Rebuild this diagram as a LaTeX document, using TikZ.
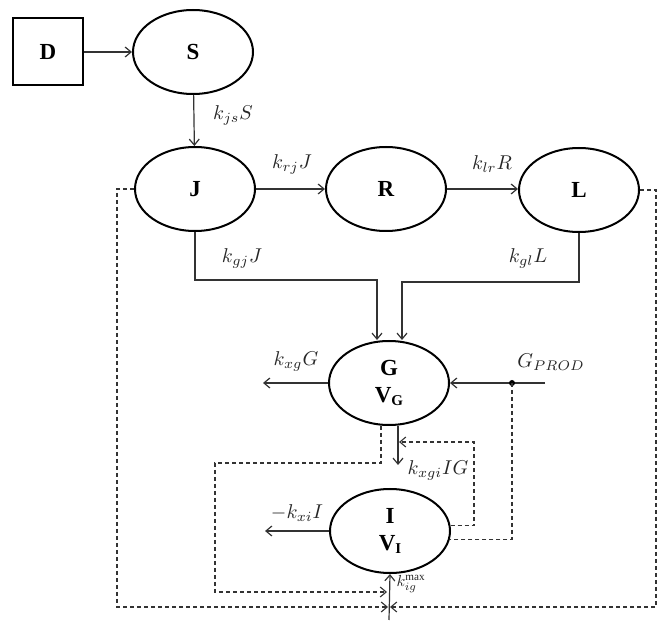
\documentclass[tikz,border=0pt]{standalone}
\usepackage{fontspec}
\setmainfont{Liberation Serif}
\usetikzlibrary{arrows.meta,shapes.geometric}
\newcommand{\mlab}[1]{\scalebox{2.0}{$#1$}}
\begin{document}
\begin{tikzpicture}[x=1pt,y=-1pt,
  >={Straight Barb[length=6pt,width=10pt]},
  conn/.style={draw=black!80,line width=1.2pt},
  dsh/.style={draw=black!80,line width=1.1pt,dash pattern=on 4pt off 3pt},
  ell/.style={ellipse,draw=black,line width=2pt,minimum width=120pt,minimum height=84pt,inner sep=0pt,font=\fontsize{23}{28}\selectfont\bfseries,align=center},
  box/.style={rectangle,draw=black,line width=2pt,minimum width=70pt,minimum height=67pt,inner sep=0pt,font=\fontsize{23}{25}\selectfont\bfseries},
  lbl/.style={text=black!85,inner sep=0pt}
]
\useasboundingbox (0,0) rectangle (665,628);
% nodes
\node[box] (D) at (48,52) {D};
\node[ell] (S) at (193,52) {S};
\node[ell] (J) at (195,189) {J};
\node[ell] (R) at (386,189) {R};
\node[ell] (L) at (579,190) {L};
\node[ell] (G) at (389,383) {G\\[-1pt]V\raisebox{-0.35ex}{\fontsize{15}{15}\selectfont G}};
\node[ell] (I) at (390,531) {I\\[-1pt]V\raisebox{-0.35ex}{\fontsize{15}{15}\selectfont I}};
% helper coordinates
\coordinate (gin1) at (377,280);
\coordinate (gin2) at (402,282);
\coordinate (gp) at (545,383);
\coordinate (dot) at (512,383);
\coordinate (xg) at (263,383);
\coordinate (xi) at (265,531);
\coordinate (gdx) at (398,0);
\coordinate (gdl) at (381,0);
\coordinate (gdown) at (398,465);
\coordinate (fbtip) at (399,442);
\coordinate (intip) at (387,592);
\coordinate (ltip) at (388,607);
\coordinate (rtip) at (390,607);
\coordinate (bt) at (389,620);
% solid connectors
\draw[conn,->] (D) -- (S);
\draw[conn,->] (S) -- (J);
\draw[conn,->] (J) -- (R);
\draw[conn,->] (R.east) -- (L.west |- R.east);
\draw[conn,->] (J.south) |- (gin1) -- (gin1 |- G.north);
\draw[conn,->] (L.south) |- (gin2) -- (gin2 |- G.north);
\draw[conn,->] (gp) -- (G.east);
\draw[conn,->] (G.west) -- (xg);
\draw[conn,->] (G.south -| gdx) -- (gdown);
\draw[conn,->] (I.west) -- (xi);
\draw[conn,->] (bt) -- (I.south);
\fill[black] (dot) circle (3pt);
% dashed connectors
\draw[dsh] (dot) |- (I.-8);
\draw[dsh,->] (I.5) -| (474,442) -- (fbtip);
\draw[dsh,->] (G.south -| gdl) -- (381,463) -| (215,592) -- (intip);
\draw[dsh,->] (J.west) -| (117,607) -- (ltip);
\draw[dsh,->] (L.east) -| (656,607) -- (rtip);
% labels
\node[lbl] (l1) at (233,115) {\mlab{k_{js}S}};
\node[lbl] (l2) at (292,164) {\mlab{k_{rj}J}};
\node[lbl] (l3) at (492,164) {\mlab{k_{lr}R}};
\node[lbl] (l4) at (242,258) {\mlab{k_{gj}J}};
\node[lbl] (l5) at (528,258) {\mlab{k_{gl}L}};
\node[lbl] (l6) at (296,361) {\mlab{k_{xg}G}};
\node[lbl] (l7) at (551,362) {\mlab{G_{PROD}}};
\node[lbl] (l8) at (438,470) {\mlab{k_{xgi}IG}};
\node[lbl] (l9) at (297,513) {\mlab{-k_{xi}I}};
\node[lbl] (l10) at (411,584) {\scalebox{1.6}{$k_{ig}^{\max}$}};
\end{tikzpicture}
\end{document}
